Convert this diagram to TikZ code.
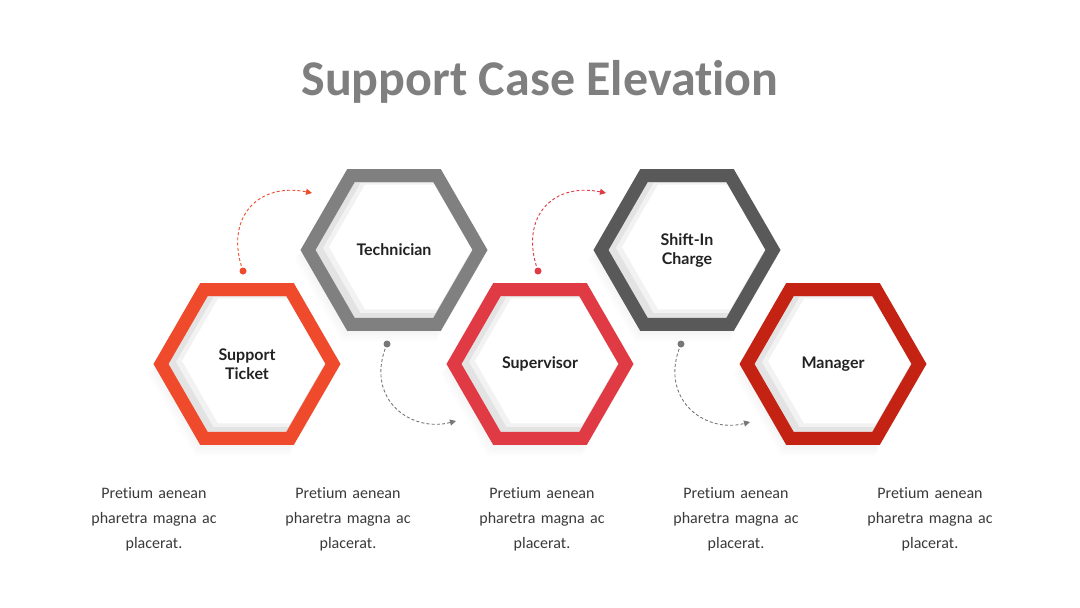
\documentclass[tikz,border=0pt]{standalone}
\usepackage{fontspec}
\setmainfont[Ligatures=NoCommon]{Carlito}
\newfontfamily\labelfont{Lato}
\definecolor{TitleGray} {HTML}{7F7F7F}
\definecolor{StepOne}   {HTML}{EE4A2B}
\definecolor{StepTwo}   {HTML}{808080}
\definecolor{StepThree} {HTML}{E03A45}
\definecolor{StepFour}  {HTML}{595959}
\definecolor{StepFive}  {HTML}{C42212}
\definecolor{LabelDark} {HTML}{222222}
\definecolor{BodyText}  {HTML}{3A3A3A}
\definecolor{LinkGray}  {HTML}{777777}
\usetikzlibrary{arrows.meta,calc}
\newcommand{\hexpath}[1]{(0:#1) -- (60:#1) -- (120:#1) -- (180:#1) -- (240:#1) -- (300:#1) -- cycle}

\begin{document}
\begin{tikzpicture}[x=1pt,y=-1pt,
    steplabel/.style={font=\labelfont\bfseries\fontsize{16}{19}\selectfont,
                      text=LabelDark,align=center},
    bodytext/.style={font=\fontsize{16}{25}\selectfont,text=BodyText,
                     align=center,text width=150},
    link/.style={dashed,dash pattern=on 3pt off 2.2pt,line width=0.9pt,
                 -{Triangle[length=6pt,width=6pt]}}]
  \useasboundingbox[fill=white] (0,0) rectangle (1080,608);

  % title
  \node[font=\bfseries\fontsize{50}{56}\selectfont,text=TitleGray] (title) at (540,82)
    {Support Case Elevation};

  % hexagon frames
  \foreach \cx/\cy/\col/\name/\txt in {
      247/364/StepOne/ticket/{Support\\Ticket},
      394/250/StepTwo/tech/{Technician},
      540/364/StepThree/super/{Supervisor},
      687/250/StepFour/shift/{Shift-In\\Charge},
      833/364/StepFive/manager/{Manager}} {
    \begin{scope}[shift={(\cx,\cy)}]
      \foreach \d in {1,...,5}
        \fill[black,opacity=0.012,shift={(-\d,1.6*\d+2)}] \hexpath{86+1.6*\d};
      \fill[white] \hexpath{86};
      \fill[black!11] \hexpath{80};
      \fill[black!5,shift={(4,-2)}] \hexpath{75};
      \fill[white,shift={(7,-3)}] \hexpath{72};
      \draw[\col,line width=13pt] \hexpath{86};
    \end{scope}
    \node[steplabel] (\name) at (\cx,\cy) {\txt};
  }

  % dashed links
  \coordinate (s1) at (243,271); \coordinate (e1) at (312,193);
  \coordinate (s2) at (387,344); \coordinate (e2) at (456,421);
  \coordinate (s3) at (538,271); \coordinate (e3) at (606,193);
  \coordinate (s4) at (681,344); \coordinate (e4) at (750,422);
  \fill[StepOne] (s1) circle (3.5);
  \draw[link,StepOne] (s1) .. controls (224,218) and (258,182) .. (e1);
  \fill[LinkGray] (s2) circle (3.5);
  \draw[link,LinkGray] (s2) .. controls (364,398) and (410,433) .. (e2);
  \fill[StepThree] (s3) circle (3.5);
  \draw[link,StepThree] (s3) .. controls (519,218) and (552,182) .. (e3);
  \fill[LinkGray] (s4) circle (3.5);
  \draw[link,LinkGray] (s4) .. controls (658,398) and (704,434) .. (e4);

  % descriptions
  \foreach \tx/\name in {154/one,348/two,542/three,736/four,930/five}
    \node[bodytext] (desc\name) at (\tx,519)
      {Pretium aenean\\pharetra magna ac\\placerat.};
\end{tikzpicture}
\end{document}
